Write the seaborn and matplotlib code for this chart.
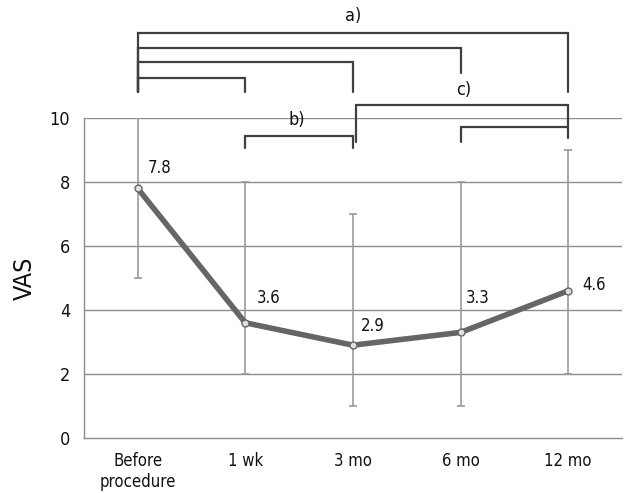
import numpy as np
import pandas as pd
import matplotlib
matplotlib.use("Agg")
import matplotlib.pyplot as plt
import seaborn as sns
from matplotlib import font_manager

# Data
timepoints = ["Before\nprocedure", "1 wk", "3 mo", "6 mo", "12 mo"]
vas_mean = [7.8, 3.6, 2.9, 3.3, 4.6]
vas_low = [5, 2, 1, 1, 2]
vas_high = [10, 8, 7, 8, 9]

# label offsets (points) for the value labels
label_offsets = [(7, 15), (8, 18), (6, 14), (4, 25), (10, 4)]

sns.set_style("white")
names = {f.name for f in font_manager.fontManager.ttflist}
fam = ['Liberation Sans Narrow'] if 'Liberation Sans Narrow' in names else []
plt.rcParams['font.family'] = fam + ['DejaVu Sans', 'Liberation Sans']
plt.rcParams['font.stretch'] = 'condensed'

df = pd.DataFrame({"time": np.arange(len(timepoints)), "vas": vas_mean})

fig = plt.figure(figsize=(6.26, 4.93), dpi=100)
ax = fig.add_axes([0.134, 0.1116, 0.8596, 0.649])

grid_col = "#8c8c8c"
txt_col = "#111111"
for yv in [2, 4, 6, 8, 10]:
    ax.axhline(yv, color=grid_col, lw=1.0, zorder=1)

# error bars
yerr = np.array([np.array(vas_mean) - np.array(vas_low),
                 np.array(vas_high) - np.array(vas_mean)])
ax.errorbar(df["time"], df["vas"], yerr=yerr, fmt="none", ecolor="#9a9a9a",
            elinewidth=1.2, capsize=3, capthick=1.2, zorder=2)

sns.lineplot(data=df, x="time", y="vas", ax=ax, color="#666666", lw=4,
             marker="o", markersize=5, markerfacecolor="#e0e0e0",
             markeredgecolor="#666666", markeredgewidth=1, zorder=3)

for i, (v, off) in enumerate(zip(vas_mean, label_offsets)):
    ax.annotate(f"{v}", (i, v), xytext=off, textcoords="offset points",
                fontsize=12, ha="left", va="center", color=txt_col)

ax.set_xlim(-0.5, 4.5)
ax.set_ylim(0, 10)
ax.set_yticks([0, 2, 4, 6, 8, 10])
ax.set_yticklabels(["0", "2", "4", "6", "8", "10"], fontsize=13, color=txt_col)
ax.set_xticks(range(len(timepoints)))
ax.set_xticklabels(timepoints, fontsize=12, linespacing=1.25, color=txt_col)
ax.set_xticks(np.arange(0.5, 4.6, 1.0), minor=True)
ax.tick_params(axis="x", which="major", length=0, pad=10)
ax.tick_params(axis="x", which="minor", length=5, width=1, color=grid_col, direction="in")
ax.tick_params(axis="y", length=0, pad=10)
ax.set_xlabel("")
ax.set_ylabel("VAS", fontsize=18, labelpad=9, color=txt_col)

for s in ["top", "right"]:
    ax.spines[s].set_visible(False)
for s in ["left", "bottom"]:
    ax.spines[s].set_color(grid_col)
    ax.spines[s].set_linewidth(1.0)

# significance brackets
bcol = "#404040"
blw = 1.6
def bracket(x0, x1, ytop, yl, yr):
    ax.plot([x0, x0, x1, x1], [yl, ytop, ytop, yr], color=bcol, lw=blw,
            clip_on=False, zorder=5, solid_joinstyle="miter")

# a)
bracket(0, 4, 12.66, 10.81, 10.81)
bracket(0, 3, 12.19, 10.81, 11.40)
bracket(0, 2, 11.75, 10.81, 10.81)
bracket(0, 1, 11.25, 10.81, 10.81)
ax.text(2, 13.2, "a)", fontsize=13, ha="center", va="center", clip_on=False, color=txt_col)
# b)
bracket(1, 2, 9.44, 9.06, 9.06)
ax.text(1.48, 9.94, "b)", fontsize=13, ha="center", va="center", color=txt_col)
# c)
bracket(2.03, 4, 10.41, 9.25, 9.375)
bracket(3, 4, 9.72, 9.25, 9.72)
ax.text(3.03, 10.875, "c)", fontsize=13, ha="center", va="center", clip_on=False, color=txt_col)

fig.savefig("out.png", dpi=100)
